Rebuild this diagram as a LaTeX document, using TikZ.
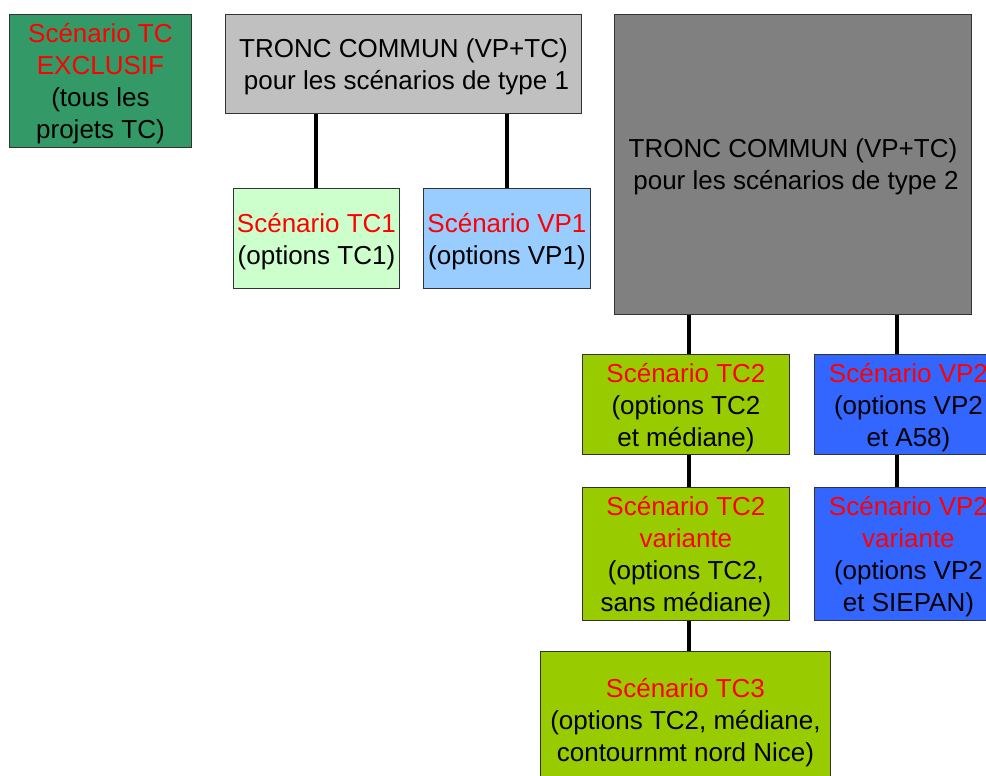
\documentclass[tikz,border=0pt]{standalone}
\usepackage{fontspec}
\setmainfont{Liberation Sans}
\definecolor{exclgreen}{HTML}{339966}
\definecolor{troncone}{HTML}{C0C0C0}
\definecolor{tronctwo}{HTML}{808080}
\definecolor{tcone}{HTML}{CCFFCC}
\definecolor{vpone}{HTML}{99CCFF}
\definecolor{tctwo}{HTML}{99CC00}
\definecolor{vptwo}{HTML}{3366FF}
\definecolor{edge}{HTML}{333333}
\definecolor{hot}{HTML}{FF0000}
\newcommand{\hl}[1]{\textcolor{hot}{#1}}
\tikzset{
  box/.style={draw=edge, line width=0.9pt, anchor=north west, inner sep=0pt,
    align=center, text depth=0pt, font=\fontsize{26}{32}\selectfont},
  link/.style={line width=4pt, black}
}
\begin{document}
\begin{tikzpicture}[x=1pt, y=-1pt]
\useasboundingbox (0,0) rectangle (986,776);
\clip (0,0) rectangle (986,776);
\fill[white] (0,0) rectangle (986,776);

% top row
\node[box, fill=exclgreen, minimum width=182pt, minimum height=133pt] (excl) at (9,14)
  {\hl{Scénario TC}\\\hl{EXCLUSIF}\\(tous les\\projets TC)};
\node[box, fill=troncone, minimum width=356pt, minimum height=99pt] (tr1) at (225,14)
  {TRONC COMMUN (VP+TC)\\\hspace*{6pt}pour les scénarios de type 1};
\node[box, fill=tronctwo, minimum width=357pt, minimum height=300pt] (tr2) at (614,14)
  {TRONC COMMUN (VP+TC)\\\hspace*{6pt}pour les scénarios de type 2};

% type 1 scenarios
\node[box, fill=tcone, minimum width=166pt, minimum height=100pt] (tc1) at (233,188)
  {\hl{Scénario TC1}\\(options TC1)};
\node[box, fill=vpone, minimum width=167pt, minimum height=100pt] (vp1) at (423,188)
  {\hl{Scénario VP1}\\(options VP1)};

% type 2 scenarios
\node[box, fill=tctwo, minimum width=207pt, minimum height=100pt] (tc2) at (582,354)
  {\hl{Scénario TC2}\\(options TC2\\et médiane)};
\node[box, fill=vptwo, minimum width=188pt, minimum height=100pt] (vp2) at (814,354)
  {\hl{Scénario VP2}\\(options VP2\\et A58)};
\node[box, fill=tctwo, minimum width=207pt, minimum height=133pt] (tc2v) at (582,487)
  {\hl{Scénario TC2}\\\hl{variante}\\(options TC2,\\sans médiane)};
\node[box, fill=vptwo, minimum width=188pt, minimum height=133pt] (vp2v) at (814,487)
  {\hl{Scénario VP2}\\\hl{variante}\\(options VP2\\et SIEPAN)};
\node[box, fill=tctwo, minimum width=290pt, minimum height=136pt] (tc3) at (540,651)
  {\hl{Scénario TC3}\\(options TC2, médiane,\\ contournmt nord Nice)};

% connectors
\draw[link] (tc1.north) -- (tc1.north |- tr1.south);
\draw[link] (vp1.north) -- (vp1.north |- tr1.south);
\draw[link] ([xshift=3.5pt]tc2.north) -- ([xshift=3.5pt]tc2.north |- tr2.south);
\draw[link] ([xshift=-11pt]vp2.north) -- ([xshift=-11pt]vp2.north |- tr2.south);
\draw[link] ([xshift=3.5pt]tc2v.north) -- ([xshift=3.5pt]tc2v.north |- tc2.south);
\draw[link] ([xshift=-11pt]vp2v.north) -- ([xshift=-11pt]vp2v.north |- vp2.south);
\draw[link] ([xshift=4pt]tc3.north) -- ([xshift=4pt]tc3.north |- tc2v.south);
\end{tikzpicture}
\end{document}
